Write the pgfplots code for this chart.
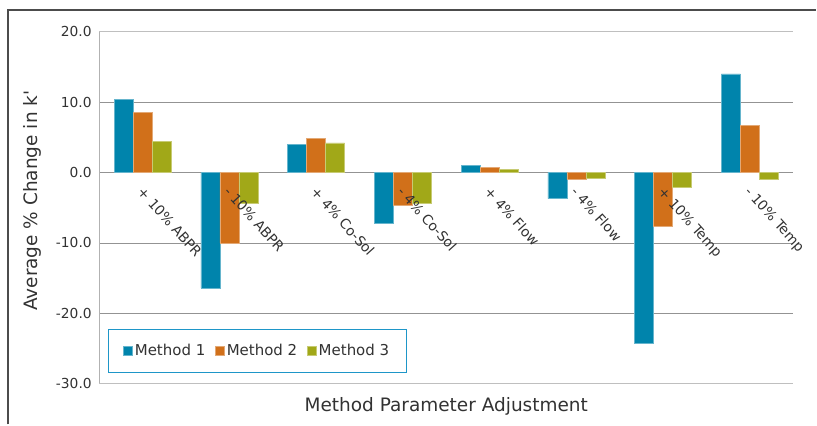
\documentclass[border=0pt]{standalone}
\usepackage{pgfplots}
\pgfplotsset{compat=1.18}
\usepackage{fontspec}
\setmainfont{DejaVu Sans}
\definecolor{mone}{RGB}{0,132,172}
\definecolor{mtwo}{RGB}{209,112,26}
\definecolor{mthree}{RGB}{161,168,24}
\definecolor{legb}{RGB}{30,150,200}
\definecolor{txt}{RGB}{50,50,50}
\tikzset{catlab/.style={xshift=2pt, yshift=203.5pt, rotate=-48, anchor=north west, font=\fontsize{13.8}{16}\selectfont, text=txt}}
\begin{document}
\begin{tikzpicture}
\path (0,0) rectangle (817pt,425pt);
\draw[line width=2pt, color=black!70] (8pt,0pt) -- (8pt,414.7pt) -- (817pt,414.7pt);
\begin{axis}[
  at={(99.3pt,40.7pt)}, anchor=south west,
  scale only axis, width=695pt, height=352.6pt,
  ymin=-30, ymax=20, xmin=-0.5, xmax=7.5,
  ybar=0pt, bar width=19pt,
  xtick={0,...,7},
  xticklabels={},
  ytick={-20,-10,0,10},
  yticklabels={-20.0,-10.0,0.0,10.0},
  extra y ticks={-30,20},
  extra y tick labels={-30.0,20.0},
  extra y tick style={grid style={color=gray!50, line width=1pt}},
  yticklabel style={font=\fontsize{13.8}{16}\selectfont, text=txt, xshift=-4pt},
  ymajorgrids,
  grid style={color=gray!85, line width=0.8pt},
  axis x line*=bottom, axis y line*=left,
  x axis line style={draw=none},
  y axis line style={color=gray!60, line width=1pt},
  major tick length=0pt,
  clip=false,
  xlabel={Method Parameter Adjustment},
  ylabel={Average \% Change in k\textquotesingle},
  xlabel style={at={(axis description cs:0.5,0)}, anchor=center, yshift=-22.4pt, font=\fontsize{18.5}{22}\selectfont, text=txt},
  ylabel style={at={(axis description cs:-0.0955,0.52)}, anchor=center, font=\fontsize{18.5}{22}\selectfont, text=txt},
  legend image code/.code={\fill[#1] (0pt,-4.5pt) rectangle (9pt,4.5pt);},
  legend columns=-1,
  legend style={at={(axis description cs:0.0125,0.032)}, anchor=south west,
    draw=legb, line width=1pt, font=\fontsize{15}{18}\selectfont, text=txt,
    inner xsep=15pt, inner ysep=13pt,
    /tikz/every even column/.append style={column sep=8pt}},
]
\addplot[fill=mone, draw=mone!60!white, line width=0.5pt] coordinates {(0,10.4) (1,-16.4) (2,4.0) (3,-7.2) (4,1.0) (5,-3.7) (6,-24.2) (7,14.0)};
\addplot[fill=mtwo, draw=mtwo!60!white, line width=0.5pt] coordinates {(0,8.5) (1,-10.0) (2,4.9) (3,-4.6) (4,0.7) (5,-0.9) (6,-7.6) (7,6.7)};
\addplot[fill=mthree, draw=mthree!60!white, line width=0.5pt] coordinates {(0,4.4) (1,-4.3) (2,4.2) (3,-4.3) (4,0.4) (5,-0.8) (6,-2.1) (7,-0.9)};
\legend{Method 1, Method 2, Method 3}
\node[catlab] at (axis cs:0,-30) {+ 10\% ABPR};
\node[catlab] at (axis cs:1,-30) {- 10\% ABPR};
\node[catlab] at (axis cs:2,-30) {+ 4\% Co-Sol};
\node[catlab] at (axis cs:3,-30) {- 4\% Co-Sol};
\node[catlab] at (axis cs:4,-30) {+ 4\% Flow};
\node[catlab] at (axis cs:5,-30) {- 4\% Flow};
\node[catlab] at (axis cs:6,-30) {+ 10\% Temp};
\node[catlab] at (axis cs:7,-30) {- 10\% Temp};
\end{axis}
\end{tikzpicture}
\end{document}
